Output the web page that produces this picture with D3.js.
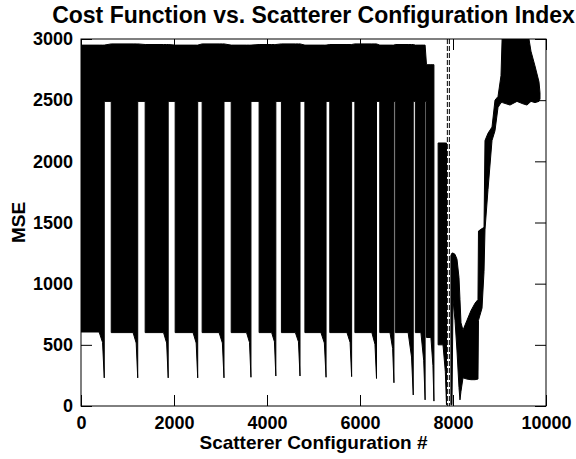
<!DOCTYPE html>
<html>
<head>
<meta charset="utf-8">
<script src="https://cdn.jsdelivr.net/npm/d3@7"></script>
<style>
  body { margin: 0; background: #fff; }
  svg text { font-family: "Liberation Sans", Arial, sans-serif; font-weight: bold; fill: #000; }
</style>
</head>
<body>
<svg id="chart" width="576" height="459"></svg>
<script>
// ---- data ----
// each scan block oscillates between a floor and a top, then its floor
// sags down to a minimum at the end of the block
const blockStart = [0, 650, 1380, 2025, 2605, 3230, 3830, 4310, 4815, 5350, 5890, 6425, 6760, 7190, 7430, 7680];
const tailStart  = [390, 1120, 1775, 2410, 2970, 3560, 4100, 4610, 5160, 5720, 6255, 6645, 7035, 7310, 7525, 7785];
const blockEnd   = [500, 1220, 1875, 2510, 3075, 3655, 4190, 4710, 5270, 5820, 6355, 6730, 7145, 7400, 7590, 7860];
const blockTop   = [2950, 2960, 2955, 2950, 2960, 2950, 2955, 2960, 2950, 2955, 2960, 2950, 2955, 2950, 2790, 2150];
const blockFloor = [605, 600, 600, 600, 600, 600, 600, 600, 600, 600, 600, 600, 600, 600, 560, 500];
const tailMid    = [520, 515, 515, 515, 515, 520, 525, 525, 515, 520, 505, 470, 400, 370, 330, 280];
const tailMin    = [230, 230, 230, 230, 230, 235, 245, 245, 235, 240, 225, 190, 90, 50, 40, 10];
// lower edge of the values between two blocks (null = nothing drawn)
const gapLow     = [2490, 2490, 2490, 2490, 2490, 2490, 2490, 2490, 2490, 2490, 2490, 2490, 2490, 2490, null, null];

// last part (after the marker): min / max envelope of the trace
const tailX  = [7955, 7978, 8000, 8043, 8086, 8129, 8150, 8172, 8215, 8300, 8387, 8473, 8537, 8548, 8624, 8667, 8688, 8753, 8839, 8903, 8968, 9032, 9064, 9226, 9376, 9505, 9591, 9677, 9763, 9849, 9871];
const tailLo = [10, 10, 870, 700, 450, 150, 50, 120, 230, 220, 215, 215, 220, 700, 800, 1100, 1440, 1770, 2170, 2250, 2440, 2480, 2480, 2460, 2490, 2470, 2460, 2490, 2480, 2490, 2510];
const tailHi = [1230, 1250, 1250, 1240, 1200, 1050, 870, 680, 620, 700, 780, 840, 870, 1430, 1450, 1460, 2170, 2230, 2280, 2500, 2530, 2700, 3100, 3100, 3100, 3100, 3100, 2900, 2780, 2650, 2560];

const markerX = 7900;
const xTicks = [0, 2000, 4000, 6000, 8000, 10000];
const yTicks = [0, 500, 1000, 1500, 2000, 2500, 3000];

// ---- chart ----
const W = 576, H = 459;
const margin = {top: 39, right: 30, bottom: 53, left: 81};
const svg = d3.select("#chart");

const x = d3.scaleLinear().domain([0, 10000]).range([margin.left, W - margin.right]);
const y = d3.scaleLinear().domain([0, 3000]).range([H - margin.bottom, margin.top]);

svg.append("clipPath").attr("id", "plot-clip")
  .append("rect")
  .attr("x", x(0)).attr("y", y(3000))
  .attr("width", x(10000) - x(0)).attr("height", y(0) - y(3000));

// envelope rows for the block part
const env = [];
blockStart.forEach((s, i) => {
  env.push({x: s, lo: blockFloor[i], hi: blockTop[i]});
  env.push({x: tailStart[i], lo: blockFloor[i], hi: blockTop[i]});
  env.push({x: (tailStart[i] + blockEnd[i] * 2) / 3, lo: tailMid[i], hi: blockTop[i]});
  env.push({x: blockEnd[i], lo: tailMin[i], hi: blockTop[i]});
  if (gapLow[i] != null && i + 1 < blockStart.length) {
    env.push({x: blockEnd[i], lo: gapLow[i], hi: blockTop[i]});
    env.push({x: blockStart[i + 1], lo: gapLow[i], hi: blockTop[i + 1]});
  } else {
    env.push({gap: true});
  }
});
tailX.forEach((v, i) => env.push({x: v, lo: tailLo[i], hi: tailHi[i]}));

const area = d3.area()
  .defined(d => !d.gap)
  .x(d => x(d.x))
  .y0(d => y(d.lo))
  .y1(d => y(d.hi));

svg.append("g").attr("clip-path", "url(#plot-clip)")
  .append("path")
  .datum(env)
  .attr("d", area)
  .attr("fill", "#000")
  .attr("stroke", "#000")
  .attr("stroke-width", 1);

// dashed marker
const mk = svg.append("g").attr("clip-path", "url(#plot-clip)");
mk.append("line")
  .attr("x1", x(markerX)).attr("x2", x(markerX))
  .attr("y1", y(3000)).attr("y2", y(0))
  .attr("stroke", "#000").attr("stroke-width", 3)
  .attr("stroke-dasharray", "5,2");
mk.append("line")
  .attr("x1", x(markerX)).attr("x2", x(markerX))
  .attr("y1", y(3000)).attr("y2", y(0))
  .attr("stroke", "#fff").attr("stroke-width", 1);

// axes (inward ticks on all four sides)
const tick = 11;
const fmt = d3.format("d");

svg.append("g")
  .attr("transform", `translate(0,${y(0)})`)
  .call(d3.axisBottom(x).tickValues(xTicks).tickFormat(fmt).tickSizeInner(-tick).tickSizeOuter(0).tickPadding(10))
  .call(g => g.select(".domain").remove())
  .call(g => g.selectAll("text").attr("font-size", 18).attr("font-family", null));

svg.append("g")
  .attr("transform", `translate(0,${y(3000)})`)
  .call(d3.axisTop(x).tickValues(xTicks).tickFormat("").tickSizeInner(-tick).tickSizeOuter(0))
  .call(g => g.select(".domain").remove());

svg.append("g")
  .attr("transform", `translate(${x(0)},0)`)
  .call(d3.axisLeft(y).tickValues(yTicks).tickFormat(fmt).tickSizeInner(-tick).tickSizeOuter(0).tickPadding(8))
  .call(g => g.select(".domain").remove())
  .call(g => g.selectAll("text").attr("font-size", 18).attr("font-family", null));

svg.append("g")
  .attr("transform", `translate(${x(10000)},0)`)
  .call(d3.axisRight(y).tickValues(yTicks).tickFormat("").tickSizeInner(-tick).tickSizeOuter(0))
  .call(g => g.select(".domain").remove());

svg.selectAll(".tick line").attr("stroke", "#000");

svg.append("rect")
  .attr("x", x(0)).attr("y", y(3000))
  .attr("width", x(10000) - x(0)).attr("height", y(0) - y(3000))
  .attr("fill", "none").attr("stroke", "#000").attr("stroke-width", 1);

// labels
svg.append("text")
  .attr("x", (x(0) + x(10000)) / 2).attr("y", 23)
  .attr("text-anchor", "middle").attr("font-size", 23)
  .text("Cost Function vs. Scatterer Configuration Index");

svg.append("text")
  .attr("x", (x(0) + x(10000)) / 2).attr("y", 449)
  .attr("text-anchor", "middle").attr("font-size", 19)
  .text("Scatterer Configuration #");

svg.append("text")
  .attr("transform", `translate(25,${(y(0) + y(3000)) / 2}) rotate(-90)`)
  .attr("text-anchor", "middle").attr("font-size", 19)
  .text("MSE");
</script>
</body>
</html>
